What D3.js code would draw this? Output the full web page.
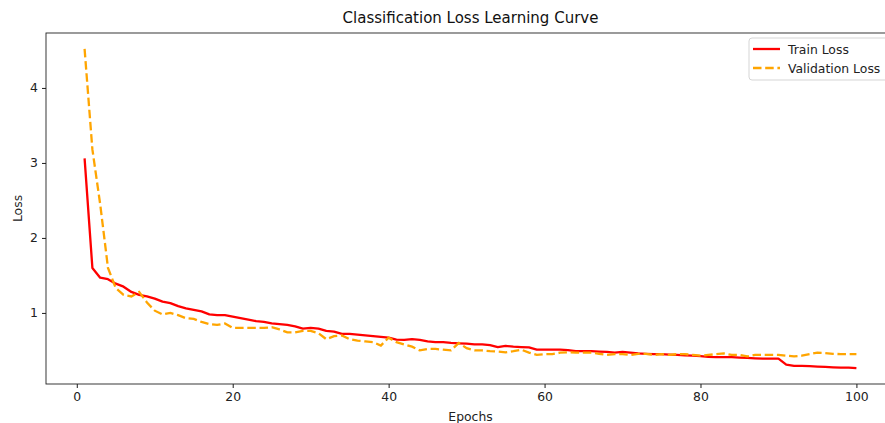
<!DOCTYPE html>
<html>
<head>
<meta charset="utf-8">
<script src="https://cdn.jsdelivr.net/npm/d3@7"></script>
<style>
  body { margin: 0; background: #fff; }
  svg { display: block; font-family: "DejaVu Sans", sans-serif; }
</style>
</head>
<body>
<svg id="chart" width="885" height="423"></svg>
<script>
// epochs 1..100
const epochs = d3.range(1, 101);

const trainLoss = [
  3.06, 1.60, 1.47, 1.45, 1.39, 1.35, 1.28, 1.24, 1.22, 1.19,
  1.15, 1.13, 1.09, 1.06, 1.04, 1.02, 0.98, 0.97, 0.97, 0.95,
  0.93, 0.91, 0.89, 0.88, 0.86, 0.85, 0.84, 0.82, 0.79, 0.80,
  0.79, 0.76, 0.75, 0.72, 0.72, 0.71, 0.70, 0.69, 0.68, 0.67,
  0.645, 0.64, 0.65, 0.64, 0.62, 0.61, 0.61, 0.60, 0.595, 0.59,
  0.58, 0.58, 0.57, 0.545, 0.56, 0.55, 0.545, 0.54, 0.51, 0.51,
  0.51, 0.51, 0.505, 0.49, 0.49, 0.49, 0.485, 0.48, 0.47, 0.48,
  0.47, 0.46, 0.455, 0.45, 0.45, 0.445, 0.44, 0.435, 0.43, 0.425,
  0.415, 0.41, 0.41, 0.41, 0.405, 0.40, 0.395, 0.39, 0.39, 0.39,
  0.31, 0.295, 0.295, 0.29, 0.285, 0.28, 0.275, 0.27, 0.27, 0.265
];

const valLoss = [
  4.52, 3.18, 2.45, 1.60, 1.33, 1.24, 1.22, 1.28, 1.14, 1.03,
  0.98, 1.00, 0.97, 0.93, 0.92, 0.88, 0.85, 0.84, 0.86, 0.80,
  0.80, 0.80, 0.80, 0.80, 0.81, 0.78, 0.74, 0.74, 0.76, 0.76,
  0.73, 0.65, 0.69, 0.70, 0.65, 0.63, 0.62, 0.61, 0.565, 0.67,
  0.61, 0.58, 0.55, 0.50, 0.52, 0.52, 0.51, 0.50, 0.60, 0.53,
  0.50, 0.50, 0.49, 0.485, 0.475, 0.49, 0.51, 0.47, 0.44, 0.45,
  0.45, 0.47, 0.475, 0.47, 0.47, 0.47, 0.455, 0.44, 0.45, 0.45,
  0.44, 0.455, 0.455, 0.44, 0.45, 0.44, 0.45, 0.45, 0.44, 0.43,
  0.44, 0.45, 0.46, 0.44, 0.44, 0.42, 0.44, 0.44, 0.44, 0.44,
  0.43, 0.42, 0.43, 0.45, 0.47, 0.465, 0.455, 0.45, 0.45, 0.45
];

const xTicks = [0, 20, 40, 60, 80, 100];
const yTicks = [1, 2, 3, 4];

const seriesNames = ["Train Loss", "Validation Loss"];
const seriesColors = ["#ff0000", "#ffa500"];

const svg = d3.select("#chart");
const plot = { left: 46, right: 895, top: 33, bottom: 384 };
const fs = "12.4px";

// matplotlib-like 5% margins
const xPad = (d3.max(epochs) - d3.min(epochs)) * 0.05;
const allY = trainLoss.concat(valLoss);
const yPad = (d3.max(allY) - d3.min(allY)) * 0.05;

const x = d3.scaleLinear()
  .domain([d3.min(epochs) - xPad, d3.max(epochs) + xPad])
  .range([plot.left, plot.right]);
const y = d3.scaleLinear()
  .domain([d3.min(allY) - yPad, d3.max(allY) + yPad])
  .range([plot.bottom, plot.top]);

// axes
const xAxis = svg.append("g")
  .attr("transform", `translate(0,${plot.bottom})`)
  .call(d3.axisBottom(x).tickValues(xTicks).tickSize(4).tickPadding(4).tickFormat(d3.format("d")));
const yAxis = svg.append("g")
  .attr("transform", `translate(${plot.left},0)`)
  .call(d3.axisLeft(y).tickValues(yTicks).tickSize(4).tickPadding(4).tickFormat(d3.format("d")));

[xAxis, yAxis].forEach(a => {
  a.select(".domain").remove();
  a.selectAll(".tick line").attr("stroke", "#000").attr("stroke-width", 0.9);
  a.selectAll(".tick text")
    .attr("fill", "#222")
    .style("font-family", "DejaVu Sans")
    .style("font-size", fs);
});

// spines
svg.append("rect")
  .attr("x", plot.left).attr("y", plot.top)
  .attr("width", plot.right - plot.left).attr("height", plot.bottom - plot.top)
  .attr("fill", "none").attr("stroke", "#222").attr("stroke-width", 0.9);

// lines
const line = d3.line()
  .x((d, i) => x(epochs[i]))
  .y(d => y(d));

svg.append("path")
  .datum(trainLoss)
  .attr("d", line)
  .attr("fill", "none")
  .attr("stroke", seriesColors[0])
  .attr("stroke-width", 2.3)
  .attr("stroke-linejoin", "round");

svg.append("path")
  .datum(valLoss)
  .attr("d", line)
  .attr("fill", "none")
  .attr("stroke", seriesColors[1])
  .attr("stroke-width", 2.3)
  .attr("stroke-dasharray", "8.5,3.7");

// title and labels
const midX = (plot.left + plot.right) / 2;
svg.append("text")
  .attr("x", midX).attr("y", 23)
  .attr("text-anchor", "middle")
  .style("font-size", "15px").attr("fill", "#111")
  .text("Classification Loss Learning Curve");

svg.append("text")
  .attr("x", midX).attr("y", 421)
  .attr("text-anchor", "middle")
  .style("font-size", fs).attr("fill", "#222")
  .text("Epochs");

svg.append("text")
  .attr("transform", `translate(22,${(plot.top + plot.bottom) / 2}) rotate(-90)`)
  .attr("text-anchor", "middle")
  .style("font-size", fs).attr("fill", "#222")
  .text("Loss");

// legend
const lg = svg.append("g").attr("transform", "translate(749,38)");
lg.append("rect")
  .attr("width", 142).attr("height", 42).attr("rx", 3)
  .attr("fill", "#fff").attr("fill-opacity", 0.8)
  .attr("stroke", "#d0d0d0").attr("stroke-width", 0.9);

seriesNames.forEach((name, i) => {
  const yy = 11 + i * 19;
  lg.append("line")
    .attr("x1", 4).attr("x2", 31).attr("y1", yy).attr("y2", yy)
    .attr("stroke", seriesColors[i]).attr("stroke-width", 2.3)
    .attr("stroke-dasharray", i === 1 ? "8.5,3.7" : null);
  lg.append("text")
    .attr("x", 39).attr("y", yy + 4.5)
    .style("font-size", fs).attr("fill", "#222")
    .text(name);
});
</script>
</body>
</html>
